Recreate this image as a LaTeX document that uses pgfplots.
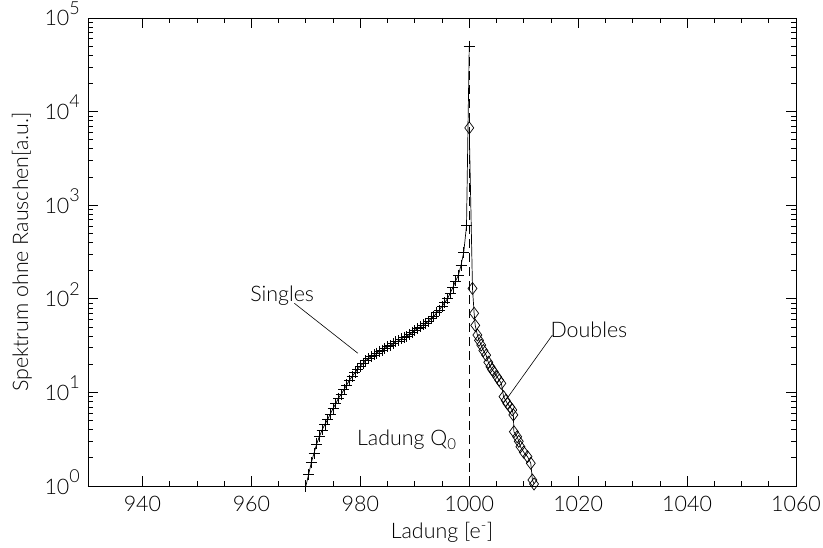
\documentclass[border=0pt]{standalone}
\usepackage{fontspec}
\setmainfont{Lato}[UprightFont=* Light]
\usepackage{pgfplots}
\pgfplotsset{compat=1.18}
\newcommand\pw[1]{10\raisebox{0.55em}{\fontsize{18}{18}\selectfont #1}}
\begin{document}
\begin{tikzpicture}
\begin{axis}[
  scale only axis, width=708bp, height=468bp,
  font=\fontsize{21.5}{25}\selectfont,
  xmin=930, xmax=1060, ymin=1, ymax=1e5, ymode=log,
  xtick={940,960,980,1000,1020,1040,1060},
  xticklabels={940,960,980,1000,1020,1040,1060},
  minor x tick num=3,
  ytick={1,10,100,1000,10000,100000},
  yticklabels={\pw{0},\pw{1},\pw{2},\pw{3},\pw{4},\pw{5}},
  tick align=inside,
  major tick length=10bp, minor tick length=5bp,
  every tick/.style={black, line width=0.7bp},
  axis line style={line width=0.8bp},
  xticklabel style={anchor=north, inner sep=0pt, yshift=-10bp},
  yticklabel style={anchor=base east, inner sep=0pt, xshift=-8bp, yshift=-8bp},
  xlabel={Ladung [e\textsuperscript{-}]},
  ylabel={Spektrum ohne Rauschen[a.u.]},
  xlabel style={at={(axis description cs:0.5,-0.099)}, anchor=center},
  ylabel style={at={(axis description cs:-0.0932,0.5)}, anchor=center},
  clip=false,
]
% vertical dashed line at Q0
\addplot[black, line width=0.7bp, dash pattern=on 9bp off 5bp] coordinates {(1000,1) (1000,60000)};
% Singles
\addplot[black, line width=0.7bp, mark=+, mark size=5.5bp] coordinates {
(970.0,1.00) (970.5,1.32) (971.0,1.78) (971.5,2.24) (972.0,2.82) (972.5,3.39)
(973.0,3.98) (973.5,4.57) (974.0,5.13) (974.5,5.89) (975.0,6.76) (975.5,7.59)
(976.0,8.71) (976.5,9.55) (977.0,10.7) (977.5,12.0) (978.0,13.5) (978.5,14.8)
(979.0,16.2) (979.5,17.8) (980.0,19.1) (980.5,20.4) (981.0,21.9) (981.5,22.9)
(982.0,24.0) (982.5,25.1) (983.0,26.3) (983.5,27.5) (984.0,28.2) (984.5,29.5)
(985.0,30.9) (985.5,31.6) (986.0,33.1) (986.5,34.7) (987.0,35.5) (987.5,37.2)
(988.0,38.9) (988.5,39.8) (989.0,41.7) (989.5,43.7) (990.0,45.7) (990.5,47.9)
(991.0,50.1) (991.5,52.5) (992.0,55.0) (992.5,57.5) (993.0,61.7) (993.5,64.6)
(994.0,70.8) (994.5,75.9) (995.0,83.2) (995.5,91.2) (996.0,100) (996.5,115)
(997.0,132) (997.5,155) (998.0,178) (998.5,229) (999.0,316) (999.5,603)
(1000.0,50119)
};
% Doubles
\addplot[black, line width=0.7bp, mark=diamond, mark size=6bp] coordinates {
(1000.0,6700) (1000.6,129) (1000.9,70) (1001.1,52) (1001.5,41) (1001.8,36)
(1002.2,32) (1002.6,28) (1003.1,25) (1003.5,21) (1003.9,18.8) (1004.2,17.5)
(1004.5,16.6) (1005.1,14.7) (1005.5,13.5) (1005.9,12.5) (1006.3,9.0) (1006.7,8.2)
(1007.0,7.6) (1007.5,7.0) (1007.9,6.5) (1008.1,5.75) (1008.2,3.8) (1008.8,3.36)
(1009.1,3.0) (1009.4,2.63) (1010.0,2.3) (1010.7,2.06) (1011.3,1.75) (1011.6,1.16)
(1011.9,1.05)
};
% annotations
\draw[black, line width=0.6bp] (axis cs:967.9,89.5) -- (axis cs:979.55,26.2);
\node[anchor=center, inner sep=0pt] at (axis cs:965.65,107) {Singles};
\draw[black, line width=0.6bp] (axis cs:1015.27,41.0) -- (axis cs:1006.96,8.65);
\node[anchor=center, inner sep=0pt] at (axis cs:1021.98,46.4) {Doubles};
\node[anchor=center, inner sep=0pt] at (axis cs:988.55,3.1) {Ladung Q\textsubscript{0}};
\end{axis}
\path ([shift={(-88bp,-62bp)}]current axis.south west) rectangle ([shift={(27bp,18bp)}]current axis.north east);
\end{tikzpicture}
\end{document}
